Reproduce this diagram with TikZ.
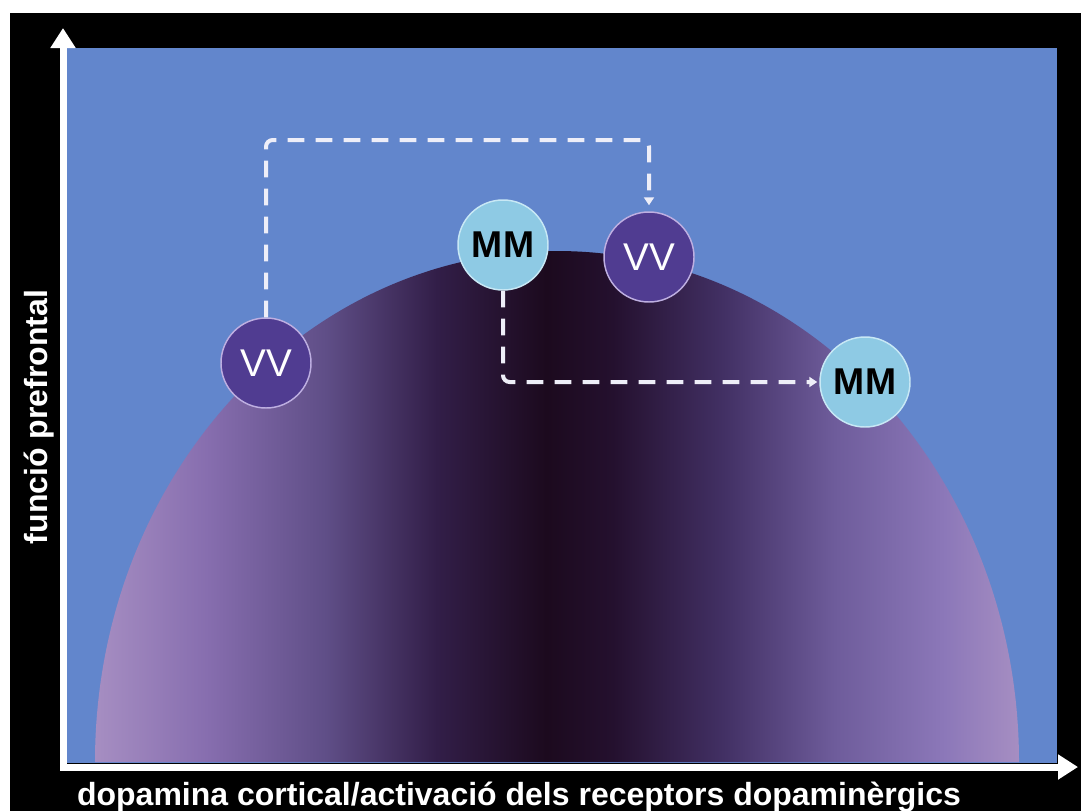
\documentclass[tikz,border=0pt]{standalone}
\usepackage{fontspec}
\setmainfont{Liberation Sans}
\usetikzlibrary{arrows.meta}
\usepackage{xcolor}
\definecolor{plotblue}{RGB}{98,134,204}
\definecolor{vvpurple}{RGB}{80,60,145}
\definecolor{vvrim}{RGB}{190,175,225}
\definecolor{mmcyan}{RGB}{142,202,228}
\definecolor{mmrim}{RGB}{200,232,245}
\definecolor{dashwhite}{RGB}{238,238,248}
\definecolor{hillA}{RGB}{166,142,194}
\definecolor{hillB}{RGB}{135,110,175}
\definecolor{hillC}{RGB}{95,78,135}
\definecolor{hillD}{RGB}{50,30,72}
\definecolor{hillE}{RGB}{28,10,30}
\definecolor{hillF}{RGB}{36,16,46}
\definecolor{hillG}{RGB}{66,48,100}
\definecolor{hillH}{RGB}{110,92,155}
\definecolor{hillI}{RGB}{140,120,185}
\pgfdeclarehorizontalshading{hill}{100bp}{color(0bp)=(hillA); color(25bp)=(hillA);
  color(31bp)=(hillB); color(37.5bp)=(hillC); color(43.5bp)=(hillD);
  color(49.4bp)=(hillE); color(53bp)=(hillF); color(59bp)=(hillG);
  color(65bp)=(hillH); color(71bp)=(hillI); color(75bp)=(hillA); color(100bp)=(hillA)}
\def\dotsize{67.5pt}

\begin{document}
\begin{tikzpicture}[x=0.75pt,y=-0.75pt]
    \tikzstyle{group dot}=[circle, minimum size=\dotsize, inner sep=0pt, line width=1.1pt]
    \tikzstyle{vv dot}=[group dot, fill=vvpurple, draw=vvrim, text=white, font=\fontsize{29}{30}\selectfont]
    \tikzstyle{mm dot}=[group dot, fill=mmcyan, draw=mmrim, text=black, font=\fontsize{28}{30}\selectfont\bfseries]
    \tikzstyle{axis arrow}=[draw=white, line width=5.25pt, -{Triangle[length=15pt,width=18pt]}]
    \tikzstyle{shift line}=[draw=dashwhite, line width=3pt, dash pattern=on 12.5pt off 8.5pt, rounded corners=5pt, -{Triangle[length=6pt,width=7.5pt]}]
    \tikzstyle{annot}=[text=white, inner sep=0pt, font=\fontsize{24}{28}\selectfont\bfseries]

    \useasboundingbox (0,0) rectangle (1081,811);

    % Frame and plot area
    \fill[white] (0,0) rectangle (1081,811);
    \fill[black] (10,13) rectangle (1081,811);
    \fill[plotblue] (67,48) rectangle (1057,763);

    % Inverted-U curve
    \shade[shading=hill] (95,762) arc[start angle=180, end angle=360, x radius=462, y radius=511] -- cycle;

    % Axes
    \coordinate (origin) at (63,767);
    \coordinate (ytip) at (63,28);
    \coordinate (xtip) at (1078,767);
    \draw[axis arrow] (60,767) -- (xtip);
    \draw[axis arrow] (63,770) -- (ytip);

    \node[annot, anchor=base] (xlabel) at (519,805) {dopamina cortical/activació dels receptors dopaminèrgics};
    \node[annot, anchor=base, rotate=90] (ylabel) at (47,417) {funció prefrontal};

    % Genotype groups
    \node[vv dot] (VV-1) at (266,363) {VV};
    \node[vv dot] (VV-2) at (649,257) {VV};
    \node[mm dot] (MM-1) at (503,245) {MM};
    \node[mm dot] (MM-2) at (865,382) {MM};

    % Shifts along the curve
    \coordinate (bend) at (450,140);
    \draw[shift line, shorten >=4.5pt] (VV-1.north) |- (bend) -| (VV-2.north);
    \draw[shift line, shorten >=1.5pt] (MM-1.south) |- (MM-2.west);
\end{tikzpicture}
\end{document}
